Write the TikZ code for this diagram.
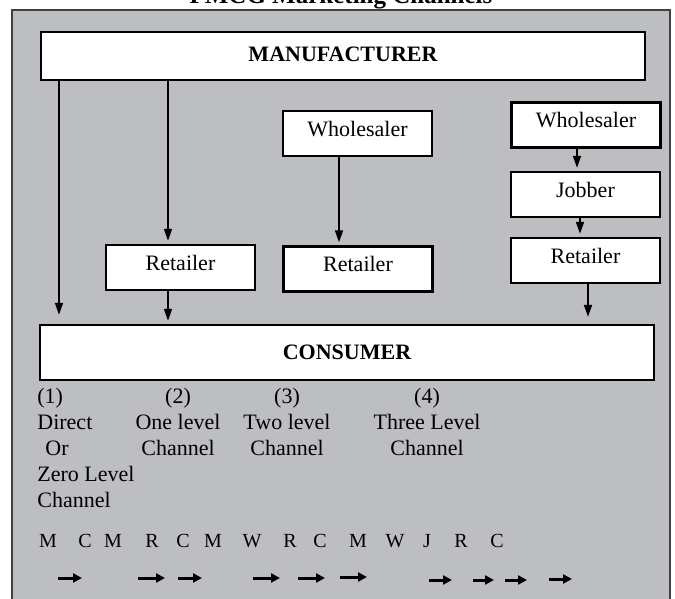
\documentclass[tikz,border=0pt]{standalone}
\usepackage{fontspec}
\setmainfont{Liberation Serif}
\usetikzlibrary{arrows.meta}
\definecolor{panelgray}{RGB}{189,190,194}

\begin{document}
\begin{tikzpicture}[x=0.5pt,y=-0.5pt,
        box/.style={draw, line width=1.2pt, fill=white, inner sep=0pt, font=\fontsize{11}{13}\selectfont},
        wide/.style={box, font=\fontsize{11}{13}\selectfont\bfseries},
        small/.style={box, minimum width=74.5pt, minimum height=22.5pt, text depth=5pt},
        flow/.style={line width=0.9pt, -{Triangle[length=6pt,width=4pt]}, shorten >=1.5pt},
        tick/.style={line width=1.5pt, -{Triangle[length=4.5pt,width=4.5pt]}},
        lbl/.style={inner sep=0pt, font=\fontsize{11}{13}\selectfont}]
        \clip (0,0) rectangle (675,599);
        \draw[line width=1pt, draw=black!75, fill=panelgray] (12,10) rectangle (670,620);
        \node[font=\fontsize{12.5}{14}\selectfont\bfseries, anchor=base] (title) at (341,4) {FMCG Marketing Channels};
        \coordinate (p1) at (59,0);
        \coordinate (p2) at (168,0);
        \coordinate (p3) at (339,0);
        \coordinate (p4) at (577,0);
        \coordinate (p5) at (580,0);
        \coordinate (p6) at (588,0);
        \node[wide, minimum width=302pt, minimum height=24pt, text depth=1.5pt] (manuf) at (343,56) {MANUFACTURER};
        \node[wide, minimum width=307pt, minimum height=27.5pt] (cons) at (347,352.5) {CONSUMER};
        \node[small] (ret1) at (180.5,267.5) {Retailer};
        \node[small] (whole2) at (357.5,133.5) {Wholesaler};
        \node[small] (ret2) at (358,269) {Retailer};
        \node[small] (whole3) at (586,125) {Wholesaler};
        \node[small] (jobber) at (585.5,194.5) {Jobber};
        \node[small] (ret3) at (585.5,260.5) {Retailer};
        \draw[flow, shorten >=4.5pt] (p1 |- manuf.south) -- (p1 |- cons.north);
        \draw[flow] (p2 |- manuf.south) -- (p2 |- ret1.north);
        \draw[flow] (p2 |- ret1.south) -- (p2 |- cons.north);
        \draw[flow] (p3 |- whole2.south) -- (p3 |- ret2.north);
        \draw[flow] (p4 |- whole3.south) -- (p4 |- jobber.north);
        \draw[flow] (p5 |- jobber.south) -- (p5 |- ret3.north);
        \draw[flow, shorten >=3.5pt] (p6 |- ret3.south) -- (p6 |- cons.north);
        \node[lbl, anchor=north west, align=left] (ch1) at (37,388) {(1)\\Direct\\\hspace*{4pt}Or\\Zero Level\\Channel};
        \node[lbl, anchor=north, align=center] (ch2) at (178,388) {(2)\\One level\\Channel};
        \node[lbl, anchor=north, align=center] (ch3) at (287,388) {(3)\\Two level\\Channel};
        \node[lbl, anchor=north, align=center] (ch4) at (427,388) {(4)\\Three Level\\Channel};
        \foreach \x/\t [count=\i] in {48/M,85/C,113/M,152/R,183/C,213/M,252/W,290/R,320/C,358/M,395/W,427/J,461/R,497/C}
            \node[lbl, font=\fontsize{10}{12}\selectfont, anchor=base] (ltr\i) at (\x,547) {\t};
        \foreach \a/\b/\y in {58/82/578,138/165/578,178/202/578,253/280/578,298/325/578,340/367/577,429/452/580,473/494/580,505/527/580,549/572/579}
            \draw[tick] (\a,\y) -- (\b,\y);
    \end{tikzpicture}
\end{document}
